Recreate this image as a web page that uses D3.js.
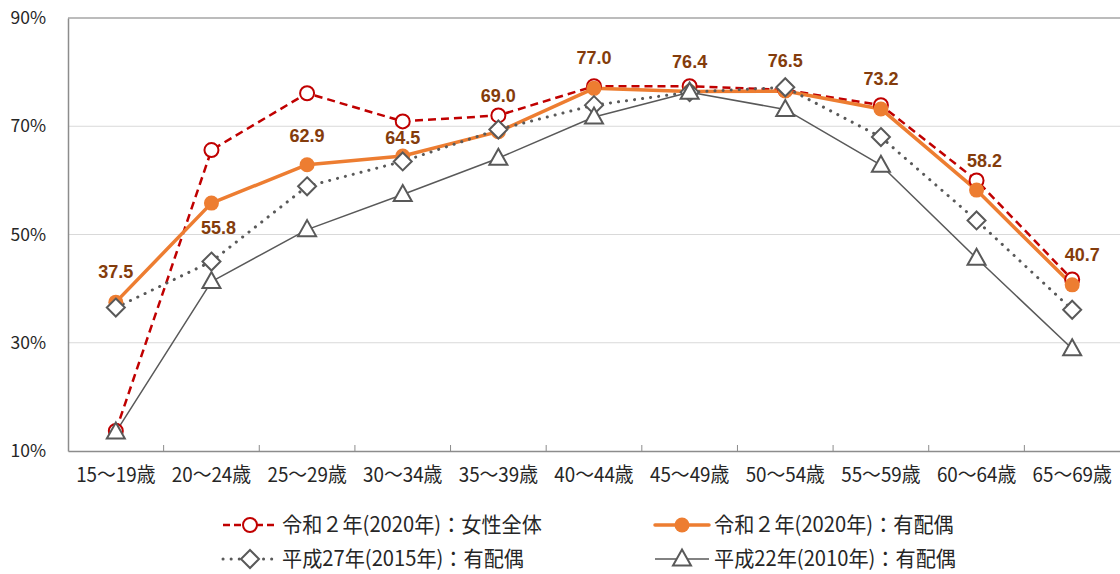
<!DOCTYPE html>
<html><head><meta charset="utf-8">
<script src="https://cdn.jsdelivr.net/npm/d3@7"></script>
<style>
html,body{margin:0;padding:0;background:#fff;}
text{font-family:"Noto Sans CJK JP","Noto Sans",sans-serif;}
</style></head>
<body><svg id="c" width="1120" height="574"></svg>
<script>
const categories = ["15～19歳","20～24歳","25～29歳","30～34歳","35～39歳","40～44歳","45～49歳","50～54歳","55～59歳","60～64歳","65～69歳"];
const all2020 = [13.7,65.6,76.1,70.9,72.0,77.4,77.4,76.7,73.9,60.0,41.7];
const married2020 = [37.5,55.8,62.9,64.5,69.0,77.0,76.4,76.5,73.2,58.2,40.7];
const married2015 = [36.5,45.0,58.9,63.5,69.4,73.9,76.3,77.2,68.0,52.6,36.1];
const married2010 = [13.5,41.3,50.9,57.4,64.1,71.7,76.3,73.1,62.8,45.6,28.9];
const yTicks = [10,30,50,70,90];
const seriesNames = ["令和２年(2020年)：女性全体","令和２年(2020年)：有配偶","平成27年(2015年)：有配偶","平成22年(2010年)：有配偶"];

const svg = d3.select("#c");
const m = {left:68, right:1120, top:18, bottom:451};
const x = d3.scaleBand().domain(categories).range([m.left, m.right]).padding(0);
const y = d3.scaleLinear().domain([10,90]).range([m.bottom, m.top]);
const cx = c => x(c) + x.bandwidth()/2;

// gridlines
svg.append("g").selectAll("line").data(yTicks.filter(t=>t>10)).join("line")
  .attr("x1", m.left).attr("x2", m.right)
  .attr("y1", d=>y(d)).attr("y2", d=>y(d))
  .attr("stroke", d=> d===90 ? "#a6a6a6" : "#d9d9d9").attr("stroke-width", d=> d===90?1.5:1);

// y axis
const yAxis = svg.append("g").attr("transform", `translate(${m.left},0)`)
  .call(d3.axisLeft(y).tickValues(yTicks).tickFormat(d=>d+"%").tickSize(0).tickPadding(22));
yAxis.select(".domain").attr("stroke","#8c8c8c").attr("stroke-width",1.5);
yAxis.selectAll("text").attr("font-size",17.5).attr("fill","#262626");

// x axis
const xAxis = svg.append("g").attr("transform", `translate(0,${m.bottom})`)
  .call(d3.axisBottom(x).tickSize(0).tickPadding(17));
xAxis.select(".domain").attr("stroke","#8c8c8c").attr("stroke-width",1.5);
xAxis.selectAll("text").attr("font-size",20).attr("fill","#262626").attr("transform","scale(0.94,1)");
// boundary ticks pointing up
svg.append("g").selectAll("line").data(categories.slice(1)).join("line")
  .attr("x1", d=>x(d)).attr("x2", d=>x(d)).attr("y1", m.bottom).attr("y2", m.bottom-6)
  .attr("stroke","#8c8c8c").attr("stroke-width",1);

const styles = [
  {data: all2020, color:"#c00000", width:2.5, dash:"8,5", cap:"butt", marker:"circle", legDash:"7,4"},
  {data: married2020, color:"#ed7d31", width:3.5, dash:null, cap:"round", marker:"dot", legDash:null},
  {data: married2015, color:"#595959", width:3, dash:"0.1,8", cap:"round", marker:"diamond", legDash:"0.1,8"},
  {data: married2010, color:"#595959", width:1.5, dash:null, cap:"butt", marker:"triangle", legDash:null}
];
const line = d3.line().x((d,i)=>cx(categories[i])).y(d=>y(d));

styles.forEach(s=>{
  svg.append("path").datum(s.data).attr("d", line).attr("fill","none")
    .attr("stroke", s.color).attr("stroke-width", s.width)
    .attr("stroke-dasharray", s.dash).attr("stroke-linecap", s.cap).attr("stroke-linejoin","round");
});

function drawMarker(g, type, color, px, py){
  if(type==="circle"){
    g.append("circle").attr("cx",px).attr("cy",py).attr("r",7).attr("fill","#fff").attr("stroke",color).attr("stroke-width",2);
  } else if(type==="dot"){
    g.append("circle").attr("cx",px).attr("cy",py).attr("r",7.5).attr("fill",color);
  } else if(type==="diamond"){
    const r=9;
    g.append("path").attr("d",`M${px},${py-r}L${px+r},${py}L${px},${py+r}L${px-r},${py}Z`)
      .attr("fill","#fff").attr("stroke",color).attr("stroke-width",2);
  } else if(type==="triangle"){
    g.append("path").attr("d",`M${px},${py-9.5}L${px+9},${py+6.5}L${px-9},${py+6.5}Z`)
      .attr("fill","#fff").attr("stroke",color).attr("stroke-width",2);
  }
}
styles.forEach(s=>{
  const g = svg.append("g");
  s.data.forEach((v,i)=>drawMarker(g, s.marker, s.color, cx(categories[i]), y(v)));
});

// data labels for married2020
const labelDx = [0,7,0,0,0,0,0,0,0,8,10];
const labelDy = [-30,25,-29,-18,-36,-31,-30,-30,-30,-29,-30];
svg.append("g").selectAll("text").data(married2020).join("text")
  .attr("x",(d,i)=>cx(categories[i])+labelDx[i])
  .attr("y",(d,i)=>y(d)+labelDy[i])
  .attr("dy","0.35em").attr("text-anchor","middle")
  .style("font-family","'Liberation Sans',Arial,sans-serif")
  .attr("font-size",18).attr("font-weight","bold").attr("fill","#843c0c")
  .text(d=>d.toFixed(1));

// legend
const legPos = [[223,525],[655,525],[223,559],[655,559]];
styles.forEach((s,i)=>{
  const [lx,ly] = legPos[i];
  const g = svg.append("g");
  g.append("line").attr("x1",lx).attr("x2",lx+54).attr("y1",ly).attr("y2",ly)
    .attr("stroke",s.color).attr("stroke-width",s.width)
    .attr("stroke-dasharray", s.legDash)
    .attr("stroke-linecap", s.cap);
  drawMarker(g, s.marker, s.color, lx+27, ly);
  g.append("text").attr("transform",`translate(${lx+59},${ly}) scale(0.96,1)`).attr("dy","0.35em")
    .attr("font-size",21).attr("fill","#262626").text(seriesNames[i]);
});
</script></body></html>
